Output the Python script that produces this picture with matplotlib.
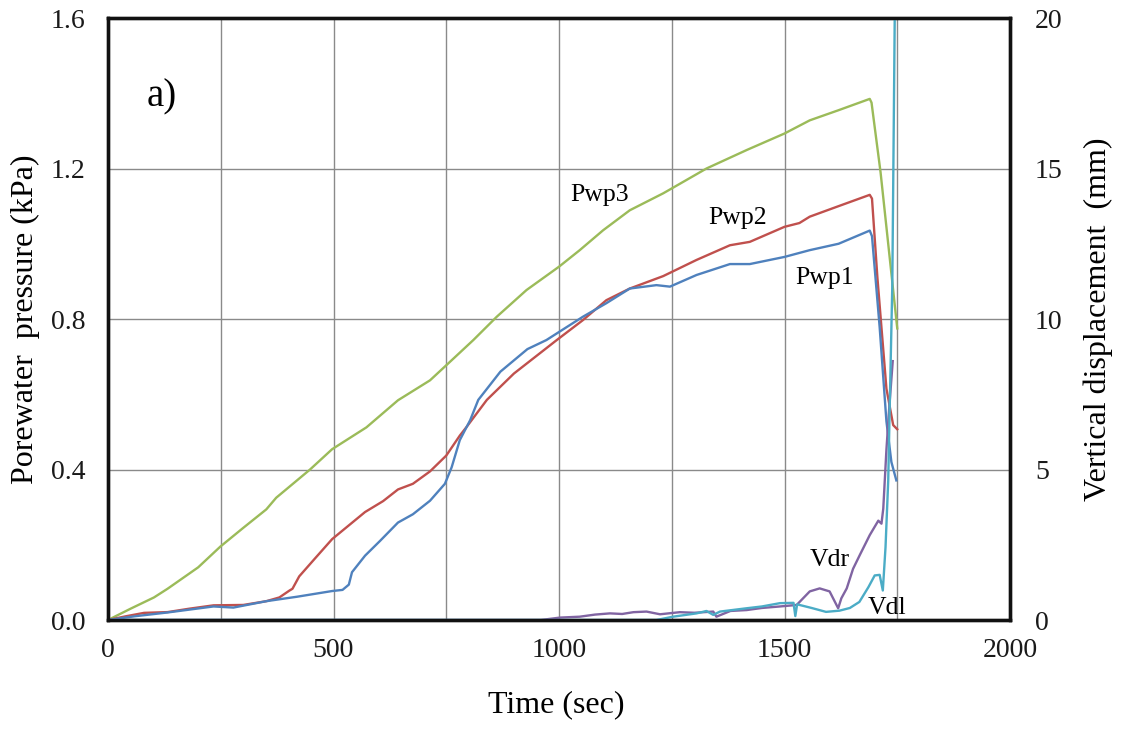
import matplotlib
matplotlib.use("Agg")
import matplotlib.pyplot as plt
from matplotlib.ticker import MultipleLocator, FormatStrFormatter

# Porewater pressure (kPa) vs time (s)
pwp3_t = [0, 50, 102, 132, 200, 249, 300, 351, 373, 448, 497, 573, 643, 714, 750, 810, 862, 928,
          1000, 1046, 1098, 1157, 1231, 1250, 1327, 1416, 1500, 1556, 1620, 1689, 1693, 1700, 1713, 1750]
pwp3_p = [0, 0.03, 0.06, 0.083, 0.14, 0.195, 0.245, 0.294, 0.325, 0.4, 0.454, 0.512, 0.584, 0.637, 0.677,
          0.744, 0.806, 0.877, 0.939, 0.983, 1.036, 1.089, 1.134, 1.147, 1.2, 1.249, 1.293, 1.328, 1.355,
          1.385, 1.375, 1.31, 1.19, 0.775]

pwp2_t = [0, 40, 80, 132, 180, 234, 300, 351, 380, 402, 409, 424, 460, 497, 570, 610, 643, 676, 714,
          750, 780, 795, 840, 900, 995, 1053, 1105, 1157, 1231, 1305, 1379, 1423, 1500, 1533, 1556, 1620,
          1689, 1694, 1706, 1726, 1741, 1750]
pwp2_p = [0, 0.01, 0.019, 0.021, 0.03, 0.039, 0.04, 0.05, 0.06, 0.078, 0.083, 0.116, 0.165, 0.215, 0.287,
          0.316, 0.347, 0.362, 0.395, 0.437, 0.49, 0.513, 0.585, 0.655, 0.744, 0.797, 0.85, 0.881, 0.914,
          0.957, 0.996, 1.005, 1.045, 1.055, 1.072, 1.1, 1.13, 1.12, 0.91, 0.615, 0.518, 0.507]

pwp1_t = [0, 60, 132, 234, 278, 351, 420, 497, 520, 534, 541, 570, 603, 643, 676, 714, 747, 762, 780,
          803, 821, 870, 930, 972, 1053, 1105, 1157, 1216, 1246, 1305, 1379, 1423, 1500, 1556, 1620, 1689,
          1694, 1711, 1726, 1737, 1748]
pwp1_p = [0, 0.01, 0.02, 0.036, 0.033, 0.05, 0.062, 0.077, 0.08, 0.094, 0.127, 0.171, 0.21, 0.259, 0.281,
          0.317, 0.362, 0.406, 0.478, 0.531, 0.585, 0.66, 0.72, 0.744, 0.806, 0.842, 0.881, 0.89, 0.886,
          0.917, 0.946, 0.946, 0.965, 0.983, 1.0, 1.035, 1.02, 0.778, 0.528, 0.42, 0.371]

# Vertical displacement (mm) vs time (s)
vdr_t = [0, 960, 1002, 1046, 1080, 1113, 1140, 1165, 1194, 1224, 1268, 1300, 1342, 1349, 1380, 1416,
         1450, 1490, 1527, 1556, 1578, 1600, 1619, 1626, 1638, 1652, 1667, 1689, 1708, 1715, 1719, 1726,
         1732, 1740]
vdr_mm = [0, 0, 0.08, 0.11, 0.18, 0.22, 0.2, 0.26, 0.28, 0.19, 0.26, 0.24, 0.28, 0.11, 0.3, 0.33, 0.4,
          0.45, 0.5, 0.95, 1.05, 0.95, 0.39, 0.72, 1.05, 1.7, 2.16, 2.82, 3.3, 3.2, 3.7, 5.66, 7.0, 8.6]

vdl_t = [0, 1216, 1253, 1305, 1327, 1342, 1357, 1416, 1450, 1490, 1520, 1524, 1528, 1560, 1592, 1622,
         1645, 1666, 1686, 1700, 1711, 1718, 1724, 1730, 1733, 1739, 1745]
vdl_mm = [0, 0, 0.11, 0.22, 0.3, 0.17, 0.28, 0.39, 0.45, 0.56, 0.57, 0.13, 0.52, 0.4, 0.27, 0.31, 0.4,
          0.6, 1.09, 1.48, 1.5, 0.98, 2.42, 4.64, 6.87, 11.1, 21]

x_ticks = [0, 500, 1000, 1500, 2000]
y_ticks = [0.0, 0.4, 0.8, 1.2, 1.6]
y2_ticks = [0, 5, 10, 15, 20]

GREEN, RED, BLUE, PURPLE, CYAN = "#9BBB59", "#C0504D", "#4F81BD", "#8064A2", "#4BACC6"

plt.rcParams["font.family"] = ["Liberation Serif", "DejaVu Serif"]

fig = plt.figure(figsize=(11.27, 7.29), dpi=100)
ax = fig.add_axes([108 / 1127, 1 - 620 / 729, 902 / 1127, 602 / 729])
ax2 = ax.twinx()

lw = 1.7
ax.plot(pwp3_t, pwp3_p, color=GREEN, lw=lw, zorder=3)
ax.plot(pwp2_t, pwp2_p, color=RED, lw=lw, zorder=3)
ax.plot(pwp1_t, pwp1_p, color=BLUE, lw=lw, zorder=3)
ax2.plot(vdr_t, vdr_mm, color=PURPLE, lw=lw)
ax2.plot(vdl_t, vdl_mm, color=CYAN, lw=lw)

ax.set_xlim(0, 2000)
ax.set_ylim(0, 1.6)
ax2.set_ylim(0, 20)

ax.xaxis.set_minor_locator(MultipleLocator(250))
ax.set_xticks(x_ticks)
ax.set_yticks(y_ticks)
ax.yaxis.set_major_formatter(FormatStrFormatter("%.1f"))
ax2.set_yticks(y2_ticks)

ax.grid(True, which="both", axis="x", color="#8a8a8a", lw=1.0)
ax.grid(True, which="major", axis="y", color="#8a8a8a", lw=1.0)
ax.set_axisbelow(True)

tick_fs = 20
ax.tick_params(axis="both", which="both", length=0, labelsize=tick_fs, labelcolor="#1a1a1a")
ax.tick_params(axis="y", pad=16)
ax.tick_params(axis="x", pad=13)
ax2.tick_params(axis="y", length=0, labelsize=tick_fs, labelcolor="#1a1a1a", pad=18)

for a in (ax, ax2):
    for s in a.spines.values():
        s.set_linewidth(2.4)
        s.set_color("#111111")

label_fs = 23
ax.set_xlabel("Time (sec)", fontsize=label_fs, va="center")
ax.xaxis.set_label_coords(0.497, -0.141)
ax.set_ylabel("Porewater  pressure (kPa)", fontsize=label_fs, va="center")
ax.yaxis.set_label_coords(-0.092, 0.5)
ax2.set_ylabel("Vertical displacement  (mm)", fontsize=label_fs, va="center")
ax2.yaxis.set_label_coords(1.098, 0.5)

ax.text(0.043, 0.869, "a)", transform=ax.transAxes, fontsize=28, ha="left", va="center")

lab = dict(fontsize=18.5, ha="center", va="center")
ax.text(1091, 1.13, "Pwp3", **lab)
ax.text(1397, 1.068, "Pwp2", **lab)
ax.text(1589, 0.909, "Pwp1", **lab)
ax.text(1601, 0.16, "Vdr", **lab)
ax.text(1728, 0.032, "Vdl", **lab, zorder=5)

fig.savefig("out.png", dpi=100)
